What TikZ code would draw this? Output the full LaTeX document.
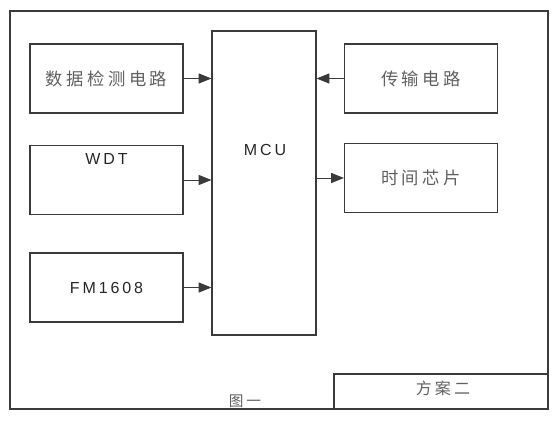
\documentclass[tikz,border=0pt]{standalone}
\usepackage{fontspec}
\setmainfont{Liberation Sans}[LetterSpace=18]
\newfontfamily\cjk{Noto Sans CJK SC}[LetterSpace=20]
\usetikzlibrary{arrows.meta}

\definecolor{linegray}{HTML}{3A3A3A}
\definecolor{textgray}{HTML}{606060}

\tikzset{
  block/.style={draw=linegray, line width=0.9pt, minimum width=114.75pt, minimum height=51.75pt, inner sep=0pt},
  cn/.style={font=\cjk\fontsize{13}{15}\selectfont, text=textgray},
  en/.style={font=\fontsize{12}{14}\selectfont, text=black!85},
  link/.style={draw=linegray, line width=0.7pt, -{Triangle[length=9.5pt,width=7.5pt]}}
}

\begin{document}
\begin{tikzpicture}[x=0.75pt, y=-0.75pt]
  \useasboundingbox (0,0) rectangle (560,421);
  % frame
  \draw[linegray, line width=0.9pt] (10,11) rectangle (548,409);
  % left blocks
  \node[block, cn] (data) at (106.5,78.5) {数据检测电路};
  \node[block] (wdt) at (106.5,180) {};
  \node[en, below=3pt] (wdttext) at (wdt.north) {WDT};
  \node[block, en] (fm) at (106.5,287.5) {FM1608};
  % controller
  \node[draw=linegray, line width=0.9pt, minimum width=78pt, minimum height=228pt, inner sep=0pt] (mcu) at (264,183) {};
  \node[en] (mcutext) at (265,150) {MCU};
  % right blocks
  \node[block, cn] (trans) at (421,78.5) {传输电路};
  \node[block, cn] (clock) at (421,178) {时间芯片};
  % links
  \draw[link] (data.east) -- (data.east -| mcu.west);
  \draw[link] (wdt.east) -- (wdt.east -| mcu.west);
  \draw[link] (fm.east) -- (fm.east -| mcu.west);
  \draw[link] (trans.west) -- (trans.west -| mcu.east);
  \draw[link] (clock.west -| mcu.east) -- (clock.west);
  % caption boxes
  \draw[linegray, line width=0.9pt] (334,374) rectangle (548,409);
  \node[cn, font=\cjk\fontsize{12}{14}\selectfont] (plan) at (443,388) {方案二};
  \node[cn, font=\cjk\fontsize{11}{12}\selectfont] (fig) at (245,401.5) {图一};
\end{tikzpicture}
\end{document}
